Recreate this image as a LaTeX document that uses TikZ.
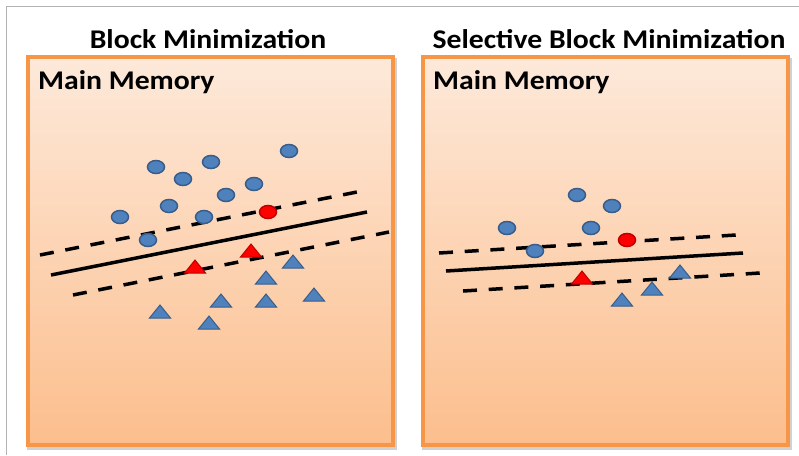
\documentclass[tikz,border=0pt]{standalone}
\usepackage{fontspec}
\setmainfont[FakeStretch=1.1]{Carlito}
\usetikzlibrary{shapes.geometric}
\definecolor{boxorange}{RGB}{247,150,70}
\definecolor{boxtop}{RGB}{253,233,218}
\definecolor{boxbottom}{RGB}{252,190,141}
\definecolor{dotblue}{RGB}{79,129,189}
\definecolor{dotblueline}{RGB}{56,93,138}
\definecolor{dotred}{RGB}{255,0,0}
\definecolor{dotredline}{RGB}{192,0,0}
\tikzset{
  membox/.style={draw=boxorange, line width=4pt, top color=boxtop, bottom color=boxbottom},
  boxshadow/.style={fill=black!18, draw=none},
  title/.style={anchor=base, inner sep=0pt, font=\fontsize{27}{30}\selectfont\bfseries},
  memlabel/.style={anchor=base west, inner sep=0pt, font=\fontsize{27}{30}\selectfont\bfseries},
  posdot/.style={ellipse, draw=dotblueline, fill=dotblue, line width=1.5pt, minimum width=17pt, minimum height=13pt, inner sep=0pt},
  negtri/.style={isosceles triangle, isosceles triangle stretches, shape border rotate=90, draw=dotblueline, fill=dotblue, line width=1pt, minimum width=21pt, minimum height=13pt, inner sep=0pt},
  supp/.style={draw=dotredline, fill=dotred},
  margin/.style={line width=3.5pt, dash pattern=on 14pt off 11.75pt},
  hyper/.style={line width=3.5pt}
}
\begin{document}
\begin{tikzpicture}[x=1pt, y=-1pt]
\useasboundingbox (0,0) rectangle (799,455);
\draw[gray!60, line width=1pt] (6,455) -- (6,6) -- (799,6);

% left panel
\fill[boxshadow] (27,58) rectangle (397,450);
\draw[membox] (28,57) rectangle (393,445);
\node[title] (tl) at (208,48) {Block Minimization};
\node[memlabel] (ml) at (38,89) {Main Memory};

\coordinate (A) at (40,255);
\coordinate (B) at (357,192);
\coordinate (C) at (51,275);
\coordinate (D) at (367,212);
\coordinate (E) at (73,295);
\coordinate (F) at (389,232);
\draw[margin] (A) -- (B);
\draw[hyper] (C) -- (D);
\draw[margin] (E) -- (F);

\node[posdot] (p1) at (289,151) {};
\node[posdot] (p2) at (156,167) {};
\node[posdot] (p3) at (211,162) {};
\node[posdot] (p4) at (183,179) {};
\node[posdot] (p5) at (254,184) {};
\node[posdot] (p6) at (226,195) {};
\node[posdot] (p7) at (169,206) {};
\node[posdot] (p8) at (120,217) {};
\node[posdot] (p9) at (204,217) {};
\node[posdot] (p10) at (148,240) {};
\node[posdot, supp] (p11) at (268,212) {};

\node[negtri, supp] (n1) at (251,252) {};
\node[negtri, supp] (n2) at (195,268) {};
\node[negtri] (n3) at (293,263) {};
\node[negtri] (n4) at (266,279) {};
\node[negtri] (n5) at (221,302) {};
\node[negtri] (n6) at (266,302) {};
\node[negtri] (n7) at (314,296) {};
\node[negtri] (n8) at (160,313) {};
\node[negtri] (n9) at (209,324) {};

% right panel
\fill[boxshadow] (422,58) rectangle (792,450);
\draw[membox] (423,57) rectangle (788,445);
\node[title] (tr) at (609,48) {Selective Block Minimization};
\node[memlabel] (mr) at (433,89) {Main Memory};

\coordinate (G) at (439,253);
\coordinate (H) at (736,235);
\coordinate (I) at (446,271);
\coordinate (J) at (743,253);
\coordinate (K) at (463,291);
\coordinate (L) at (760,273);
\draw[margin] (G) -- (H);
\draw[hyper] (I) -- (J);
\draw[margin] (K) -- (L);

\node[posdot] (q1) at (577,195) {};
\node[posdot] (q2) at (612,206) {};
\node[posdot] (q3) at (507,228) {};
\node[posdot] (q4) at (591,228) {};
\node[posdot] (q5) at (535,251) {};
\node[posdot, supp] (q6) at (627,240) {};

\node[negtri, supp] (m1) at (582,279) {};
\node[negtri] (m2) at (680,273) {};
\node[negtri] (m3) at (652,290) {};
\node[negtri] (m4) at (622,301) {};
\end{tikzpicture}
\end{document}
